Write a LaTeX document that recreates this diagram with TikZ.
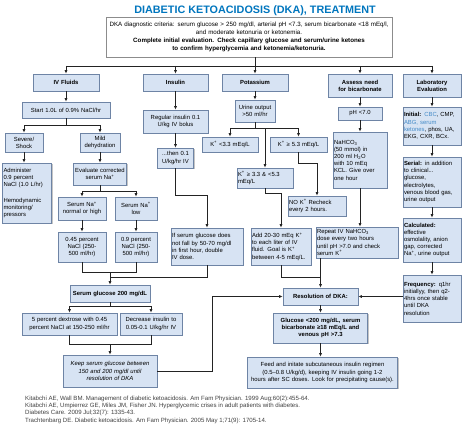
\documentclass[tikz,border=0pt]{standalone}
\usepackage{fontspec}
\setmainfont{Liberation Sans}
\usetikzlibrary{arrows.meta,shadows}
\definecolor{dkaTitle}{RGB}{0,118,190}
\definecolor{dkaFill}{RGB}{215,227,243}
\definecolor{dkaBorder}{RGB}{110,132,165}
\definecolor{dkaLink}{RGB}{70,140,200}
\definecolor{dkaLine}{RGB}{35,35,35}

\begin{document}
\begin{tikzpicture}[x=1pt,y=-1pt,font=\fontsize{5.9}{7.2}\selectfont,
  box/.style={draw=dkaBorder,fill=dkaFill,line width=0.6pt,inner xsep=1pt,inner ysep=1pt,align=center,drop shadow={shadow xshift=1.2pt,shadow yshift=-1.2pt,fill=black!45}},
  lbox/.style={box,align=left},
  hbox/.style={box,font=\fontsize{5.9}{7.2}\selectfont\bfseries},
  conn/.style={-{Latex[length=3.5pt,width=3pt]},line width=0.9pt,dkaLine},
  wire/.style={line width=0.9pt,dkaLine}]
    \fill[white] (0,0) rectangle (474,428);
    \useasboundingbox (0,0) rectangle (474,428);
    % Title and entry box
    \node[font=\fontsize{10.8}{12}\selectfont\bfseries,text=dkaTitle] (title) at (255,11) {DIABETIC KETOACIDOSIS (DKA), TREATMENT};
    \node[box,fill=white,draw=black!45,text width=284pt,minimum height=40pt,font=\fontsize{6.2}{8}\selectfont] (entry) at (249,37) {DKA diagnostic criteria: serum glucose > 250 mg/dl, arterial pH <7.3, serum bicarbonate <18 mEq/l,\\ and moderate ketonuria or ketonemia.\\ \textbf{Complete initial evaluation. Check capillary glucose and serum/urine ketones}\\ \textbf{to confirm hyperglycemia and ketonemia/ketonuria.}};
    % Column heads
    \node[hbox,text width=64pt,minimum height=17pt] (fluids) at (66,82.5) {IV Fluids};
    \node[hbox,text width=63pt,minimum height=17pt] (insulin) at (175.5,82.5) {Insulin};
    \node[hbox,text width=64pt,minimum height=17pt] (potassium) at (255,82.5) {Potassium};
    \node[hbox,text width=62pt,minimum height=23pt] (bicarb) at (360,85.5) {Assess need\\for bicarbonate};
    \node[hbox,text width=56pt,minimum height=23pt] (lab) at (432,85.5) {Laboratory\\Evaluation};
    % IV fluids
    \node[box,text width=86pt,minimum height=16pt] (start) at (66,110) {Start 1.0L of 0.9\% NaCl/hr};
    \node[box,text width=36pt,minimum height=19pt] (severe) at (24,142.5) {Severe/\\Shock};
    \node[box,text width=38pt,minimum height=19pt] (mild) at (100,142.5) {Mild\\dehydration};
    \node[lbox,text width=47pt,minimum height=60pt] (admin) at (27,193) {Administer\\0.9 percent\\NaCl (1.0 L/hr)\\[8pt]Hemodynamic\\monitoring/\\pressors};
    \node[box,text width=51pt,minimum height=22pt] (evalna) at (100,174) {Evaluate corrected\\serum Na\textsuperscript{+}};
    \node[box,text width=46pt,minimum height=23pt] (nanorm) at (82,208.5) {Serum Na\textsuperscript{+}\\normal or high};
    \node[box,text width=40pt,minimum height=23pt] (nalow) at (136,208.5) {Serum Na\textsuperscript{+}\\low};
    \node[box,text width=46pt,minimum height=30pt] (half) at (82,247) {0.45 percent\\NaCl (250-\\500 ml/hr)};
    \node[box,text width=40pt,minimum height=30pt] (full) at (136,247) {0.9 percent\\NaCl (250-\\500 ml/hr)};
    \node[hbox,text width=78pt,minimum height=17pt] (glucose) at (110,293.5) {Serum glucose 200 mg/dL};
    \node[box,text width=93pt,minimum height=22pt] (dextrose) at (69.5,324) {5 percent dextrose with 0.45\\percent NaCl at 150-250 ml/hr};
    \node[box,text width=60pt,minimum height=22pt] (lower) at (151,324) {Decrease insulin to\\0.05-0.1 U/kg/hr IV};
    \node[box,text width=92pt,minimum height=32pt,font=\fontsize{5.9}{7.2}\selectfont\itshape] (keep) at (110,371) {Keep serum glucose between\\150 and 200 mg/dl until\\resolution of DKA};
    % Insulin
    \node[box,text width=63pt,minimum height=23pt] (bolus) at (175.5,121.5) {Regular insulin 0.1\\U/kg IV bolus};
    \node[box,text width=34pt,minimum height=20pt] (drip) at (175.5,158) {...then 0.1\\U/kg/hr IV};
    \node[lbox,text width=70pt,minimum height=37pt] (double) at (207,246.5) {If serum glucose does\\not fall by 50-70 mg/dl\\in first hour, double\\IV dose.};
    % Potassium
    \node[box,text width=38pt,minimum height=22pt] (urine) at (255,111) {Urine output\\>50 ml/hr};
    \node[box,text width=54pt,minimum height=15pt] (klow) at (230,144.5) {K\textsuperscript{+} <3.3 mEq/L};
    \node[box,text width=55pt,minimum height=15pt] (khigh) at (298.5,144.5) {K\textsuperscript{+} ≥ 5.3 mEq/L};
    \node[lbox,text width=54pt,minimum height=20pt] (kmid) at (265,178) {K\textsuperscript{+} ≥ 3.3 \& <5.3\\mEq/L};
    \node[lbox,text width=56pt,minimum height=20pt] (nok) at (317,206) {NO K\textsuperscript{+} Recheck\\every 2 hours.};
    \node[lbox,text width=58pt,minimum height=37pt] (addk) at (281,246.5) {Add 20-30 mEq K\textsuperscript{+}\\to each liter of IV\\fluid. Goal is K\textsuperscript{+}\\between 4-5 mEq/L.};
    % Bicarbonate
    \node[box,text width=42pt,minimum height=13pt] (ph) at (360,113.5) {pH <7.0};
    \node[lbox,text width=52pt,minimum height=56pt] (nahco) at (360,160) {NaHCO\textsubscript{3}\\(50 mmol) in\\200 ml H\textsubscript{2}O\\with 10 mEq\\KCL. Give over\\one hour};
    \node[lbox,text width=80pt,minimum height=31pt] (repeat) at (357,242.5) {Repeat IV NaHCO\textsubscript{3}\\dose every two hours\\until pH >7.0 and check\\serum K\textsuperscript{+}};
    % Laboratory
    \node[lbox,text width=56pt,minimum height=38pt] (initial) at (432,126) {\textbf{Initial:} \textcolor{dkaLink}{CBC}, CMP,\\\textcolor{dkaLink}{ABG, serum}\\\textcolor{dkaLink}{ketones}, phos, UA,\\EKG, CXR, BCx.};
    \node[lbox,text width=56pt,minimum height=50pt] (serial) at (432,182) {\textbf{Serial:} in addition\\to clinical...\\glucose,\\electrolytes,\\venous blood gas,\\urine output};
    \node[lbox,text width=56pt,minimum height=44pt] (calc) at (432,240) {\textbf{Calculated:}\\effective\\osmolality, anion\\gap, corrected\\Na\textsuperscript{+}, urine output};
    \node[lbox,text width=56pt,minimum height=47pt] (freq) at (432,298.5) {\textbf{Frequency:} q1hr\\initiallyy, then q2-\\4hrs once stable\\until DKA\\resolution};
    % Resolution
    \node[hbox,text width=73pt,minimum height=17pt] (resolve) at (320.5,296.5) {Resolution of DKA:};
    \node[hbox,text width=92pt,minimum height=30pt] (criteria) at (320.5,328) {Glucose <200 mg/dL, serum\\bicarbonate ≥18 mEq/L and\\venous pH >7.3};
    \node[box,text width=148pt,minimum height=31pt] (feed) at (322.5,372.5) {Feed and initate subcutaneous insulin regimen\\(0.5–0.8 U/kg/d), keeping IV insulin going 1-2\\hours after SC doses. Look for precipitating cause(s).};
    % References
    \node[anchor=north west,align=left,inner sep=0pt,text=black!75,font=\fontsize{6.1}{7.4}\selectfont] (refs) at (25,395.5) {Kitabchi AE, Wall BM. Management of diabetic ketoacidosis. Am Fam Physician. 1999 Aug;60(2):455-64.\\Kitabchi AE, Umpierrez GE, Miles JM, Fisher JN. Hyperglycemic crises in adult patients with diabetes.\\Diabetes Care. 2009 Jul;32(7): 1335-43.\\Trachtenbarg DE. Diabetic ketoacidosis. Am Fam Physician. 2005 May 1;71(9): 1705-14.};
    % Arrows from the entry box
    \coordinate (bus) at (255,66);
    \draw[wire] (entry.south -| bus) -- (bus);
    \draw[wire] (bus -| fluids) -- (bus -| lab);
    \draw[conn] (bus -| fluids) -- (fluids);
    \draw[conn] (bus -| insulin) -- (insulin);
    \draw[conn] (bus -| potassium) -- (potassium);
    \draw[conn] (bus -| bicarb) -- (bicarb);
    \draw[conn] (bus -| lab) -- (lab);
    % Fluids arrows
    \draw[conn] (fluids) -- (start);
    \coordinate (ivsplit) at (66,125);
    \draw[wire] (start) -- (ivsplit);
    \draw[wire] (ivsplit -| severe) -- (ivsplit -| mild);
    \draw[conn] (ivsplit -| severe) -- (severe);
    \draw[conn] (ivsplit -| mild) -- (mild);
    \draw[conn] (severe) -- (severe |- admin.north);
    \draw[conn] (mild) -- (evalna);
    \coordinate (nasplit) at (100,191);
    \draw[wire] (evalna) -- (nasplit);
    \draw[wire] (nasplit -| nanorm) -- (nasplit -| nalow);
    \draw[conn] (nasplit -| nanorm) -- (nanorm);
    \draw[conn] (nasplit -| nalow) -- (nalow);
    \draw[conn] (nanorm) -- (half);
    \draw[conn] (nalow) -- (full);
    \coordinate (najoin) at (110,272);
    \draw[wire] (half) -- (half |- najoin) -- (full |- najoin) -- (full);
    \draw[conn] (najoin) -- (glucose);
    \coordinate (sgsplit) at (110,306);
    \draw[wire] (glucose) -- (sgsplit);
    \draw[wire] (sgsplit -| dextrose) -- (sgsplit -| lower);
    \draw[conn] (sgsplit -| dextrose) -- (dextrose);
    \draw[conn] (sgsplit -| lower) -- (lower);
    \coordinate (keepjoin) at (110,344);
    \draw[wire] (dextrose) -- (dextrose |- keepjoin) -- (lower |- keepjoin) -- (lower);
    \draw[conn] (keepjoin) -- (keep);
    \draw[conn] (keep.east) -- ++(55,0) |- (resolve.west);
    % Insulin arrows
    \draw[conn] (insulin) -- (bolus);
    \draw[conn] (bolus) -- (drip);
    \draw[conn] (drip.south) -- ++(0,27) -| (double.north);
    \coordinate (sgjoin) at (110,277);
    \draw[wire] (double.south) |- (sgjoin);
    % Potassium arrows
    \draw[conn] (potassium) -- (urine);
    \coordinate (ksplit) at (255,128);
    \draw[wire] (urine) -- (ksplit);
    \draw[wire] (ksplit -| klow) -- (ksplit -| khigh);
    \draw[conn] (ksplit -| klow) -- (klow);
    \draw[conn] (ksplit -| khigh) -- (khigh);
    \draw[conn] (ksplit -| kmid) -- (kmid);
    \draw[conn] (khigh.south) -- ++(0,11) -| (nok.north);
    \draw[conn] (kmid.south) -- ++(0,5) -| (addk.north);
    \coordinate (resjoin) at (320.5,277);
    \draw[wire] (addk) |- (resjoin);
    % Bicarbonate arrows
    \draw[conn] (bicarb) -- (ph);
    \draw[conn] (ph) -- (nahco);
    \draw[conn] (nahco) -- (nahco |- repeat.north);
    \draw[conn] (repeat.south -| resolve) -- (resolve);
    % Lab arrows
    \draw[conn] (lab) -- (initial);
    \draw[conn] (initial) -- (serial);
    \draw[conn] (serial) -- (calc);
    \draw[conn] (calc) -- (freq);
    \draw[conn] (freq.west |- resolve) -- (resolve);
    % Resolution arrows
    \draw[conn] (resolve) -- (criteria);
    \draw[conn] (criteria) -- (criteria |- feed.north);
\end{tikzpicture}
\end{document}
